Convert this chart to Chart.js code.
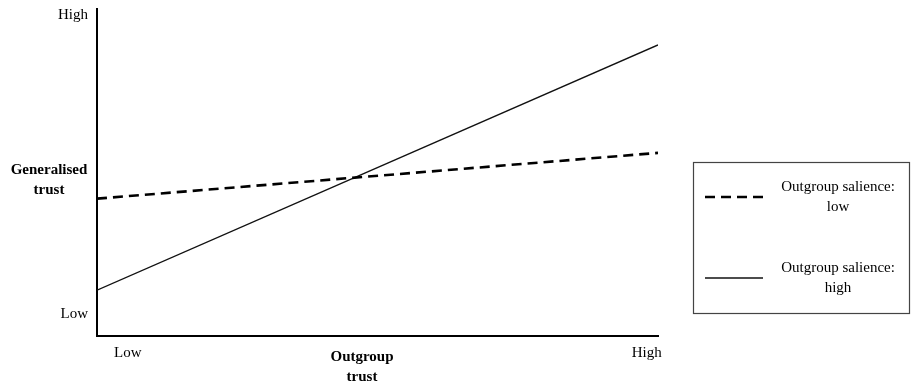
<!DOCTYPE html>
<html lang="en">
<head>
  <meta charset="UTF-8">
  <title>Generalised trust by outgroup trust</title>
  <script src="https://cdn.jsdelivr.net/npm/chart.js"></script>
  <style>
    html, body { margin: 0; padding: 0; background: #fff; }
    #wrap { position: relative; width: 913px; height: 386px; }
  </style>
</head>
<body>
  <div id="wrap"><canvas id="chart" width="913" height="386"></canvas></div>
  <script>
// data (arbitrary 0-10 scale on both axes)
const xPoints = [0, 10];
const lowSalience = [4.2, 5.6];
const highSalience = [1.4, 8.9];
const seriesLabels = [['Outgroup salience:', 'low'], ['Outgroup salience:', 'high']];
const xTickValues = [0.55, 9.8];
const xTickLabels = ['Low', 'High'];
const yTickValues = [0.67, 9.82];
const yTickLabels = ['Low', 'High'];
const xTitle = ['Outgroup', 'trust'];
const yTitle = ['Generalised', 'trust'];

const serif = '"Liberation Serif", "Times New Roman", serif';

// axis titles and the boxed legend on the right
const extras = {
  id: 'extras',
  afterDraw(chart) {
    const ctx = chart.ctx;
    ctx.save();
    ctx.fillStyle = '#000';
    ctx.textAlign = 'center';
    ctx.textBaseline = 'middle';
    ctx.font = 'bold 15px ' + serif;
    yTitle.forEach((t, i) => ctx.fillText(t, 49, 170 + i * 20));
    xTitle.forEach((t, i) => ctx.fillText(t, 362, 357 + i * 20));

    // legend box
    ctx.strokeStyle = '#444';
    ctx.lineWidth = 1.2;
    ctx.strokeRect(693.5, 162.5, 216, 151);
    const rows = [197, 278];
    chart.data.datasets.forEach((ds, i) => {
      const y = rows[i];
      ctx.beginPath();
      ctx.setLineDash(ds.borderDash || []);
      ctx.lineWidth = ds.borderWidth;
      ctx.strokeStyle = ds.borderColor;
      ctx.moveTo(705, y);
      ctx.lineTo(763, y);
      ctx.stroke();
      ctx.setLineDash([]);
      ctx.font = '15px ' + serif;
      ds.label.forEach((t, j) => ctx.fillText(t, 838, y - 10 + j * 20));
    });
    ctx.restore();
  }
};

new Chart(document.getElementById('chart'), {
  type: 'line',
  data: {
    datasets: [
      {
        label: seriesLabels[0],
        data: xPoints.map((x, i) => ({ x: x, y: lowSalience[i] })),
        borderColor: '#000',
        borderWidth: 2.6,
        borderDash: [10, 6]
      },
      {
        label: seriesLabels[1],
        data: xPoints.map((x, i) => ({ x: x, y: highSalience[i] })),
        borderColor: '#111',
        borderWidth: 1.4
      }
    ]
  },
  options: {
    responsive: false,
    animation: false,
    layout: { padding: { left: 0, right: 255, top: 0, bottom: 0 } },
    elements: { point: { radius: 0 }, line: { tension: 0 } },
    plugins: { legend: { display: false }, tooltip: { enabled: false } },
    scales: {
      x: {
        type: 'linear',
        min: 0,
        max: 10,
        grid: { display: false, drawTicks: false },
        border: { display: true, color: '#000', width: 2 },
        afterBuildTicks: s => { s.ticks = xTickValues.map(v => ({ value: v })); },
        afterFit: s => { s.height = 50; },
        ticks: {
          color: '#000',
          font: { family: serif, size: 15 },
          padding: 8,
          maxRotation: 0,
          callback: (v, i) => xTickLabels[i]
        }
      },
      y: {
        type: 'linear',
        min: 0,
        max: 10,
        grid: { display: false, drawTicks: false },
        border: { display: true, color: '#000', width: 2 },
        afterBuildTicks: s => { s.ticks = yTickValues.map(v => ({ value: v })); },
        afterFit: s => { s.width = 97; s.paddingTop = 9; },
        ticks: {
          color: '#000',
          font: { family: serif, size: 15 },
          padding: 9,
          callback: (v, i) => yTickLabels[i]
        }
      }
    }
  },
  plugins: [extras]
});
  </script>
</body>
</html>
